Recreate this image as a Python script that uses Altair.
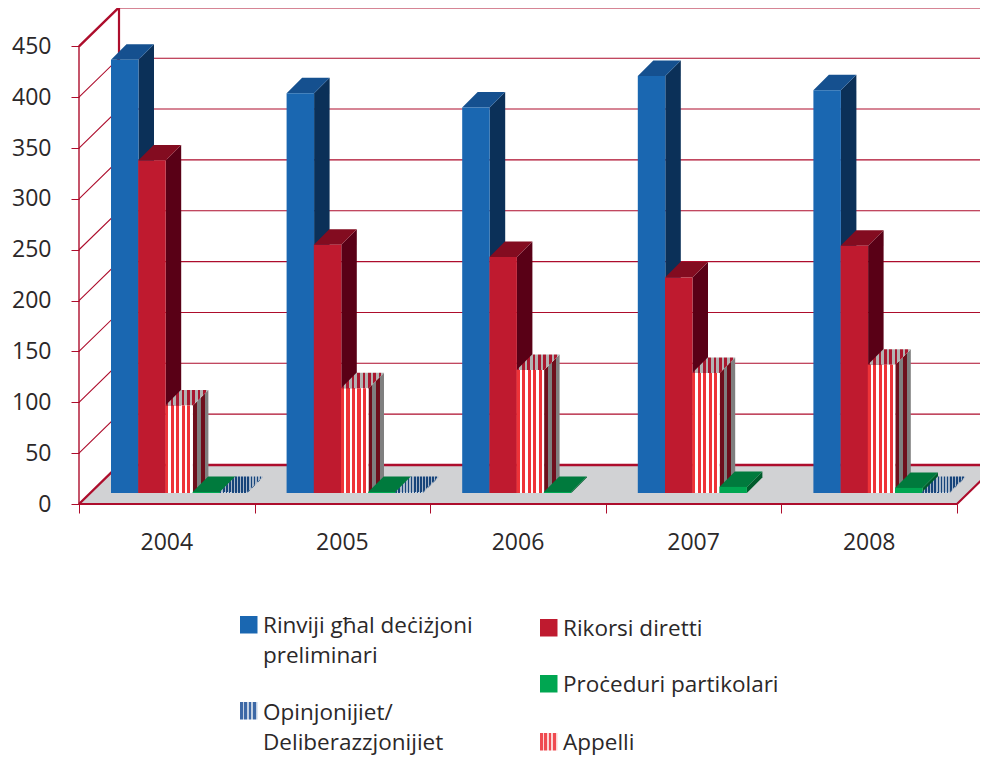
import altair as alt
import pandas as pd

years = ["2004", "2005", "2006", "2007", "2008"]
rinvijiet = [426, 393, 379, 410, 396]
rikorsi = [327, 244, 232, 212, 243]
appelli = [86, 103, 121, 118, 126]
proceduri = [1, 1, 1, 6, 5]
opinjonijiet = [1, 1, 0, 0, 1]
y_ticks = [0, 50, 100, 150, 200, 250, 300, 350, 400, 450]

AX = "#ad0d2c"
TXT = "#2b2829"
FONT = "Open Sans"

# page geometry -> scale domains
PW, PH = 972, 750
X0, X_UNIT = 79.0, 175.6
Y0, Y_UNIT = 504.0, 1.017
def sx(px): return (px - X0) / X_UNIT
def sy(py): return (Y0 - py) / Y_UNIT
xdom = [sx(8), sx(8 + PW)]
ydom = [sy(8 + PH), sy(8)]
xs = alt.Scale(domain=xdom, nice=False, zero=False)
ys = alt.Scale(domain=ydom, nice=False, zero=False)
X = alt.X("x:Q", scale=xs, axis=None)
Y = alt.Y("y:Q", scale=ys, axis=None, stack=None)
X2 = alt.X2("x2:Q")
Y2 = alt.Y2("y2:Q")

def stripes(c1, c2, n, frac=0.5):
    st = []
    for i in range(n):
        st += [alt.GradientStop(color=c1, offset=i / n),
               alt.GradientStop(color=c1, offset=(i + frac) / n),
               alt.GradientStop(color=c2, offset=(i + frac) / n),
               alt.GradientStop(color=c2, offset=(i + 1) / n)]
    return alt.Gradient(gradient="linear", stops=st, x1=0, x2=1, y1=0, y2=0)

def para(rows):
    return pd.DataFrame(rows, columns=["x", "y", "y2", "g"])

def area(rows, color, clip=False):
    return alt.Chart(para(rows)).mark_area(color=color, orient="vertical", interpolate="linear", clip=clip, opacity=1).encode(
        x=X, y=Y, y2=Y2, detail="g:N")

# depth of the bars and of the floor
BW = 27.5 / X_UNIT
STEP = 27.2 / X_UNIT
LEAD = 32.0 / X_UNIT
BASE = 11.0 / Y_UNIT
DX = 15.5 / X_UNIT
DV = 15.5 / Y_UNIT
WX = 40.0 / X_UNIT
WV = 39.0 / Y_UNIT

layers = []

# y axis and x ticks (real axes moved to the chart's origin)
axis_base = alt.Chart(pd.DataFrame({"x": [0.0], "y": [0.0], "y2": [450.0]})).mark_rule(color=AX, strokeWidth=1.4).encode(
    x=alt.X("x:Q", scale=xs, axis=alt.Axis(values=[0, 1, 2, 3, 4, 5], labels=False, domain=False, grid=False, tickSize=9,
                                           tickColor=AX, tickWidth=1, offset=-(8 + PH - 504), title=None)),
    y=alt.Y("y:Q", scale=ys, axis=alt.Axis(values=y_ticks, domain=False, grid=False, tickSize=8, tickColor=AX, tickWidth=1,
                                           labelPadding=20, labelFontSize=23, labelFont=FONT, labelColor=TXT,
                                           offset=-(79 - 8), title=None)),
    y2=Y2)
layers.append(axis_base)

# floor
floor = [(0, 0, 0, "f"), (WX, WV, 0, "f"), (5, WV, 0, "f"), (5 + WX, WV, WV, "f")]
layers.append(area(floor, "#d1d2d4", clip=True))

# grid
line_rows = []
for v in y_ticks:
    line_rows += [{"x": 0, "y": v, "g": f"d{v}"}, {"x": WX, "y": v + WV, "g": f"d{v}"},
                  {"x": 5 + WX, "y": v + WV, "g": f"d{v}"}]
thin = pd.DataFrame([r for r in line_rows if r["g"] not in ("d0", "d450")])
thick = pd.DataFrame([r for r in line_rows if r["g"] in ("d0", "d450")])
layers.append(alt.Chart(thin).mark_line(color=AX, strokeWidth=1.1, clip=True).encode(x=X, y=Y, detail="g:N"))
layers.append(alt.Chart(thick).mark_line(color=AX, strokeWidth=2.4, clip=True).encode(x=X, y=Y, detail="g:N"))
frame = pd.DataFrame([
    {"x": 0, "y": 0, "g": "a"}, {"x": 5, "y": 0, "g": "a"}, {"x": 5 + WX, "y": WV, "g": "a"},
    {"x": WX, "y": WV, "g": "b"}, {"x": WX, "y": 450 + WV, "g": "b"}])
layers.append(alt.Chart(frame).mark_line(color=AX, strokeWidth=2.2, clip=True).encode(x=X, y=Y, detail="g:N"))

series = [
    (rinvijiet, "#1a67b1", "#0b3058", "#15508f"),
    (rikorsi, "#bf1a2f", "#590016", "#830c20"),
    (appelli, stripes("#ee3338", "#ffffff", 5, 0.55), stripes("#6e0f1c", "#7f7f7f", 2), stripes("#a9182f", "#b3b3b3", 8)),
    (proceduri, "#00a651", "#005c2c", "#007a3d"),
    (opinjonijiet, stripes("#1c4a80", "#c9d3df", 9), stripes("#1c4a80", "#aab6c6", 3), stripes("#17447a", "#a9b7c8", 14, 0.55)),
]

for s, (vals, front, side, top) in enumerate(series):
    side_rows, top_rows, front_rows = [], [], []
    for i, v in enumerate(vals):
        if v <= 0:
            continue
        a = i + LEAD + s * STEP
        b = a + BW
        y0, y1 = BASE, BASE + v
        g = f"{s}-{i}"
        side_rows += [(b, y1, y0, g), (b + DX, y1 + DV, y0 + DV, g)]
        top_rows += [(a, y1, y1, g), (a + DX, y1 + DV, y1, g), (b, y1 + DV, y1, g), (b + DX, y1 + DV, y1 + DV, g)]
        front_rows.append({"x": a, "x2": b, "y": y1, "y2": y0})
    layers.append(area(side_rows, side))
    layers.append(area(top_rows, top))
    layers.append(alt.Chart(pd.DataFrame(front_rows)).mark_rect(color=front).encode(x=X, x2=X2, y=Y, y2=Y2))

# year labels
yr = pd.DataFrame({"x": [i + 0.5 for i in range(5)], "y": [sy(543)] * 5, "t": years})
layers.append(alt.Chart(yr).mark_text(font=FONT, fontSize=23, color=TXT, baseline="middle", align="center").encode(x=X, y=Y, text="t:N"))

# legend
legend_entries = [
    ("#1a67b1", 240, 616, ["Rinviji għal deċiżjoni", "preliminari"], 263, [633, 663]),
    ("#bf1a2f", 540, 619, ["Rikorsi diretti"], 563, [636]),
    ("#00a651", 540, 675, ["Proċeduri partikolari"], 563, [692]),
    (stripes("#3c68a6", "#c2d0e2", 4, 0.6), 240, 702, ["Opinjonijiet/", "Deliberazzjonijiet"], 263, [720, 750]),
    (stripes("#ef4a50", "#fbd5d5", 4, 0.6), 540, 733, ["Appelli"], 563, [750]),
]
for col, kx, ky, lines, tx, bases in legend_entries:
    sw = pd.DataFrame([{"x": sx(kx), "x2": sx(kx + 17.5), "y": sy(ky), "y2": sy(ky + 17.5)}])
    layers.append(alt.Chart(sw).mark_rect(color=col).encode(x=X, x2=X2, y=Y, y2=Y2))
    tb = pd.DataFrame({"x": [sx(tx)] * len(lines), "y": [sy(b) for b in bases], "t": lines})
    layers.append(alt.Chart(tb).mark_text(font=FONT, fontSize=22.5, color=TXT, baseline="alphabetic", align="left").encode(x=X, y=Y, text="t:N"))

chart = alt.layer(*layers).resolve_axis(x="independent", y="independent").properties(
    width=PW, height=PH, padding=0, autosize=alt.AutoSizeParams(type="none"),
    background="white"
).configure_view(stroke=None)

chart.save("out.html", embed_options={"renderer": "svg", "actions": False})
